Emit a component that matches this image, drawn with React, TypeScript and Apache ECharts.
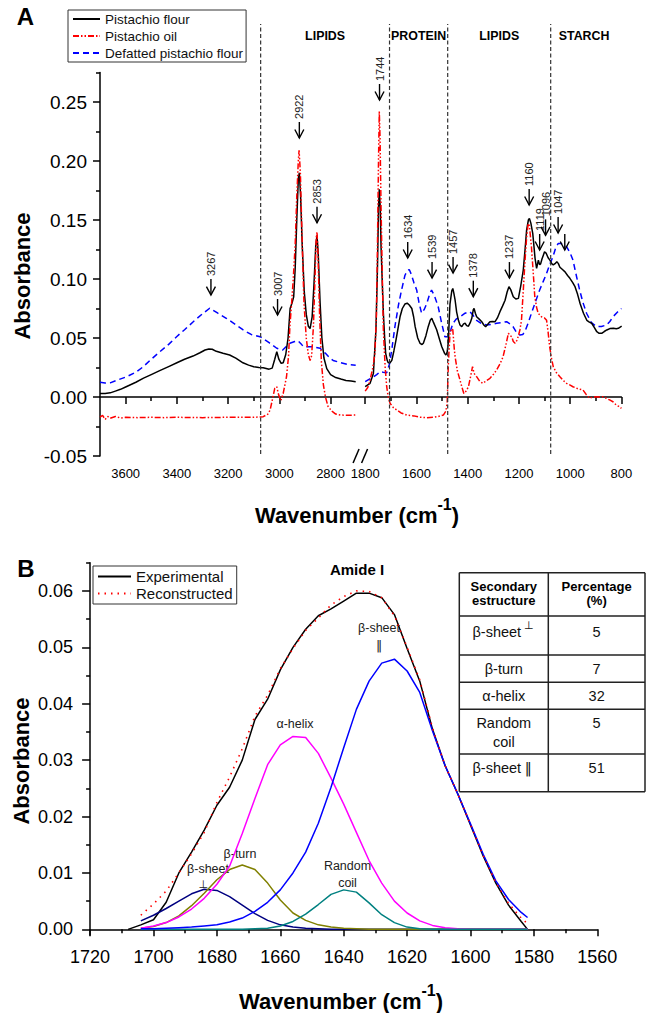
import React, { useEffect, useRef } from 'react';
import * as echarts from 'echarts';

const FONT = '"Liberation Sans", Arial, Helvetica, "DejaVu Sans", sans-serif';
const SYM_FONT = '"DejaVu Sans", "Liberation Sans", sans-serif';

// ---------------- Panel A : FTIR spectra [wavenumber cm-1, absorbance] ----------------
const flourLeft: number[][] = [
  [3700, 0.003], [3680, 0.003], [3660, 0.0035], [3640, 0.005], [3620, 0.0065], [3600, 0.0085],
  [3560, 0.0125], [3530, 0.016], [3500, 0.019], [3467, 0.0223], [3430, 0.026], [3400, 0.029],
  [3370, 0.032], [3337, 0.0347], [3310, 0.0375], [3290, 0.0398], [3275, 0.0407], [3262, 0.0405],
  [3246, 0.0387], [3220, 0.037], [3194, 0.0356], [3170, 0.033], [3142, 0.029], [3120, 0.027],
  [3100, 0.0257], [3080, 0.025], [3063, 0.0248], [3040, 0.0236], [3028, 0.0245], [3018, 0.032],
  [3010, 0.0385], [3002, 0.032], [2993, 0.0285], [2985, 0.029], [2975, 0.036], [2966, 0.05],
  [2958, 0.075], [2950, 0.08], [2944, 0.085], [2938, 0.11], [2932, 0.15], [2926, 0.185],
  [2922, 0.19], [2917, 0.17], [2911, 0.13], [2903, 0.09], [2895, 0.07], [2887, 0.06],
  [2880, 0.058], [2872, 0.068], [2865, 0.095], [2858, 0.128], [2853, 0.137], [2848, 0.12],
  [2841, 0.08], [2834, 0.05], [2826, 0.033], [2815, 0.024], [2800, 0.019], [2780, 0.0165],
  [2760, 0.0152], [2740, 0.014], [2720, 0.0135], [2702, 0.013],
];
const flourRight: number[][] = [
  [1800, 0.0087], [1781, 0.0116], [1768, 0.02], [1758, 0.057], [1752, 0.11], [1748, 0.16],
  [1745, 0.176], [1741, 0.16], [1738, 0.127], [1733, 0.095], [1729, 0.071], [1724, 0.05],
  [1720, 0.037], [1714, 0.031], [1710, 0.029], [1703, 0.029], [1696, 0.031], [1688, 0.039],
  [1680, 0.048], [1672, 0.058], [1664, 0.068], [1655, 0.075], [1645, 0.0788], [1636, 0.0795],
  [1628, 0.078], [1618, 0.075], [1611, 0.068], [1605, 0.0596], [1595, 0.05], [1586, 0.0455],
  [1578, 0.0445], [1573, 0.0455], [1563, 0.052], [1554, 0.0596], [1546, 0.065], [1540, 0.0667],
  [1533, 0.063], [1521, 0.057], [1510, 0.049], [1501, 0.0426], [1490, 0.037], [1485, 0.0356],
  [1480, 0.038], [1476, 0.0455], [1472, 0.065], [1469, 0.079], [1462, 0.09], [1458, 0.092],
  [1454, 0.088], [1449, 0.082], [1443, 0.072], [1436, 0.065], [1430, 0.061], [1423, 0.0596],
  [1416, 0.062], [1410, 0.0625], [1404, 0.0605], [1397, 0.06], [1390, 0.063], [1384, 0.0667],
  [1378, 0.074], [1375, 0.075], [1370, 0.071], [1365, 0.068], [1355, 0.066], [1345, 0.0638],
  [1337, 0.061], [1330, 0.0596], [1320, 0.062], [1313, 0.0638], [1303, 0.064], [1293, 0.0638],
  [1284, 0.067], [1274, 0.0723], [1264, 0.077], [1254, 0.082], [1246, 0.089], [1239, 0.0935],
  [1232, 0.091], [1222, 0.085], [1212, 0.083], [1202, 0.0836], [1193, 0.094], [1183, 0.1076],
  [1176, 0.125], [1170, 0.1415], [1163, 0.15], [1159, 0.1514], [1153, 0.147], [1146, 0.1387],
  [1141, 0.127], [1137, 0.1175], [1131, 0.109], [1126, 0.114], [1124, 0.116], [1119, 0.112],
  [1115, 0.113], [1110, 0.117], [1105, 0.12], [1100, 0.123], [1094, 0.122], [1086, 0.118],
  [1079, 0.116], [1072, 0.113], [1066, 0.112], [1059, 0.113], [1052, 0.1147], [1046, 0.113],
  [1040, 0.11], [1030, 0.108], [1020, 0.106], [1010, 0.103], [1001, 0.1006], [990, 0.097],
  [981, 0.0935], [971, 0.087], [961, 0.079], [948, 0.071], [935, 0.065], [925, 0.0635],
  [916, 0.0625], [906, 0.059], [896, 0.0553], [887, 0.054], [877, 0.054], [867, 0.0555],
  [857, 0.0568], [845, 0.058], [831, 0.0582], [820, 0.0578], [812, 0.0582], [799, 0.06],
];
const oilLeft: number[][] = [
  [3700, -0.017], [3690, -0.0155], [3680, -0.019], [3670, -0.0165], [3660, -0.018], [3640, -0.0165],
  [3620, -0.0178], [3600, -0.0172], [3550, -0.0175], [3500, -0.0172], [3450, -0.0175], [3400, -0.0172],
  [3300, -0.0175], [3200, -0.0172], [3100, -0.0172], [3063, -0.0167], [3045, -0.0145], [3036, -0.011],
  [3025, 0.0], [3018, 0.0073], [3010, 0.0087], [3003, 0.002], [2994, -0.003], [2985, 0.003],
  [2972, 0.0172], [2964, 0.035], [2959, 0.0596], [2952, 0.08], [2946, 0.099], [2938, 0.13],
  [2932, 0.17], [2926, 0.2], [2923, 0.209], [2918, 0.19], [2912, 0.14], [2904, 0.08],
  [2895, 0.05], [2887, 0.036], [2880, 0.031], [2874, 0.035], [2867, 0.06], [2861, 0.1],
  [2856, 0.135], [2853, 0.14], [2849, 0.12], [2843, 0.07], [2836, 0.03], [2828, 0.01],
  [2820, 0.0], [2810, -0.008], [2795, -0.012], [2780, -0.0145], [2760, -0.0153], [2730, -0.0155],
  [2702, -0.0153],
];
const oilRight: number[][] = [
  [1800, 0.005], [1790, 0.008], [1781, 0.0144], [1770, 0.025], [1762, 0.037], [1756, 0.07],
  [1752, 0.13], [1748, 0.2], [1745, 0.242], [1742, 0.22], [1738, 0.16], [1733, 0.1],
  [1729, 0.057], [1722, 0.025], [1716, 0.0087], [1710, 0.0], [1703, -0.0053], [1690, -0.009],
  [1677, -0.011], [1660, -0.0135], [1638, -0.0153], [1610, -0.016], [1586, -0.0172], [1560, -0.0175],
  [1534, -0.0172], [1515, -0.0165], [1495, -0.0153], [1485, -0.012], [1480, -0.005], [1475, 0.03],
  [1469, 0.054], [1462, 0.058], [1458, 0.057], [1452, 0.04], [1449, 0.034], [1440, 0.022],
  [1430, 0.0144], [1422, 0.008], [1415, 0.003], [1406, 0.005], [1397, 0.0087], [1388, 0.018],
  [1381, 0.0257], [1375, 0.02], [1365, 0.0172], [1352, 0.013], [1340, 0.0116], [1326, 0.014],
  [1313, 0.0158], [1300, 0.019], [1287, 0.0229], [1274, 0.028], [1262, 0.034], [1250, 0.045],
  [1241, 0.054], [1235, 0.052], [1228, 0.0511], [1222, 0.047], [1215, 0.0455], [1208, 0.048],
  [1203, 0.0511], [1196, 0.057], [1190, 0.065], [1183, 0.09], [1177, 0.113], [1170, 0.135],
  [1164, 0.147], [1159, 0.145], [1151, 0.127], [1144, 0.105], [1138, 0.085], [1131, 0.076],
  [1125, 0.071], [1112, 0.068], [1100, 0.067], [1092, 0.065], [1086, 0.055], [1080, 0.0426],
  [1073, 0.033], [1066, 0.0257], [1055, 0.021], [1040, 0.0172], [1027, 0.014], [1014, 0.0116],
  [1000, 0.01], [989, 0.0087], [970, 0.007], [950, 0.006], [937, 0.002], [924, -0.001],
  [910, 0.0], [897, 0.0003], [885, 0.0], [872, 0.0003], [860, -0.001], [846, -0.0025],
  [833, -0.004], [820, -0.0068], [810, -0.008], [800, -0.0096],
];
const defattedLeft: number[][] = [
  [3700, 0.0125], [3680, 0.0118], [3660, 0.012], [3630, 0.0145], [3596, 0.0172], [3560, 0.021],
  [3531, 0.0257], [3500, 0.032], [3466, 0.0384], [3430, 0.045], [3401, 0.0511], [3370, 0.057],
  [3336, 0.0638], [3300, 0.0705], [3272, 0.0752], [3240, 0.071], [3207, 0.0667], [3175, 0.062],
  [3141, 0.0568], [3110, 0.053], [3075, 0.0511], [3040, 0.046], [3010, 0.0413], [2987, 0.0398],
  [2972, 0.043], [2959, 0.0455], [2940, 0.047], [2927, 0.0477], [2915, 0.045], [2906, 0.0426],
  [2890, 0.0425], [2874, 0.0426], [2858, 0.042], [2841, 0.0413], [2820, 0.037], [2802, 0.0328],
  [2790, 0.031], [2760, 0.029], [2730, 0.0275], [2702, 0.027],
];
const defattedRight: number[][] = [
  [1800, 0.013], [1785, 0.015], [1768, 0.017], [1755, 0.019], [1742, 0.0214], [1730, 0.021],
  [1716, 0.0206], [1705, 0.028], [1695, 0.042], [1684, 0.0596], [1670, 0.078], [1658, 0.0907],
  [1645, 0.103], [1636, 0.107], [1628, 0.108], [1620, 0.104], [1610, 0.097], [1599, 0.0907],
  [1590, 0.08], [1580, 0.071], [1570, 0.074], [1560, 0.079], [1550, 0.086], [1541, 0.0907],
  [1530, 0.086], [1515, 0.0765], [1502, 0.063], [1489, 0.0511], [1476, 0.0511], [1466, 0.057],
  [1457, 0.0625], [1445, 0.066], [1430, 0.068], [1410, 0.071], [1391, 0.0723], [1378, 0.069],
  [1365, 0.065], [1345, 0.062], [1326, 0.061], [1307, 0.0615], [1287, 0.0625], [1268, 0.063],
  [1248, 0.0638], [1235, 0.062], [1223, 0.0596], [1210, 0.055], [1196, 0.0525], [1185, 0.053],
  [1177, 0.0553], [1165, 0.062], [1151, 0.071], [1135, 0.081], [1119, 0.0907], [1105, 0.098],
  [1092, 0.1048], [1080, 0.112], [1067, 0.119], [1057, 0.126], [1047, 0.13], [1035, 0.13],
  [1025, 0.1285], [1014, 0.1274], [1000, 0.122], [989, 0.116], [976, 0.103], [963, 0.0907],
  [950, 0.08], [936, 0.071], [917, 0.063], [897, 0.0596], [878, 0.0598], [858, 0.061],
  [845, 0.064], [833, 0.068], [815, 0.072], [800, 0.075],
];

const aMajorTicks = [3600, 3400, 3200, 3000, 2800, 1800, 1600, 1400, 1200, 1000, 800];
const aMinorTicks = [3500, 3300, 3100, 2900, 1700, 1500, 1300, 1100, 900];
const aYTicks = [-0.05, 0, 0.05, 0.1, 0.15, 0.2, 0.25];
const aYMinor = [-0.025, 0.025, 0.075, 0.125, 0.175, 0.225, 0.275];

const peakWaves = [3267, 3007, 2922, 2853, 1744, 1634, 1539, 1457, 1378, 1237, 1160, 1119, 1096, 1047, 1021];
const peakTips = [0.0864, 0.0695, 0.2195, 0.1477, 0.2517, 0.1178, 0.1008, 0.105, 0.085, 0.1008, 0.1627, 0.1246, 0.137, 0.139, 0.1246];
const peakLabels = ['3267', '3007', '2922', '2853', '1744', '1634', '1539', '1457', '1378', '1237', '1160', '1119', '1096', '1047', ''];

const dividerWaves = [3073, 1705, 1478, 1076];
const sectionNames = ['LIPIDS', 'PROTEIN', 'LIPIDS', 'STARCH'];
const sectionFrom = [3073, 1705, 1478, 1076];
const sectionTo = [1705, 1478, 1076, 815];

// ---------------- Panel B : Amide I deconvolution ----------------
const experimental: number[][] = [
  [1708, 0], [1704, 0.0008], [1700, 0.0017], [1696, 0.0048], [1692, 0.01], [1688, 0.0137],
  [1684, 0.0176], [1680, 0.022], [1676, 0.0252], [1672, 0.03], [1668, 0.0372], [1664, 0.0408],
  [1660, 0.046], [1656, 0.05], [1652, 0.0532], [1648, 0.0556], [1644, 0.0568], [1640, 0.0582],
  [1636, 0.0596], [1632, 0.0596], [1628, 0.0588], [1624, 0.0558], [1620, 0.0498], [1616, 0.044],
  [1612, 0.0355], [1608, 0.029], [1604, 0.024], [1600, 0.0185], [1596, 0.013], [1592, 0.0082],
  [1588, 0.0043], [1584, 0.0014], [1582, 0],
];
const compWaves = [1704, 1700, 1696, 1692, 1688, 1684, 1680, 1676, 1672, 1668, 1664, 1660, 1656, 1652, 1648, 1644,
  1640, 1636, 1632, 1628, 1624, 1620, 1616, 1612, 1608, 1604, 1600, 1596, 1592, 1588, 1584, 1582];
const reconstructed = [0.0025, 0.0045, 0.0068, 0.01, 0.0134, 0.0172, 0.0225, 0.027, 0.032, 0.0378, 0.0415, 0.0462,
  0.0498, 0.053, 0.0552, 0.0575, 0.059, 0.06, 0.0599, 0.0588, 0.0556, 0.05, 0.0442, 0.0357, 0.029, 0.024, 0.0186,
  0.0131, 0.0083, 0.0046, 0.002, 0.001];
const betaSheetPerp = [0.0015, 0.0025, 0.0037, 0.005, 0.0063, 0.0071, 0.0069, 0.0058, 0.0043, 0.0028, 0.0016, 0.0008,
  0.0004, 0.0002, 0.0001, 0, 0, 0, 0, 0, 0, 0, 0, 0, 0, 0, 0, 0, 0, 0, 0, 0];
const betaTurn = [0.0002, 0.0005, 0.0012, 0.0024, 0.0042, 0.0064, 0.0088, 0.0106, 0.0114, 0.0106, 0.0082, 0.0052,
  0.0029, 0.0016, 0.0008, 0.0004, 0.0002, 0.0001, 0, 0, 0, 0, 0, 0, 0, 0, 0, 0, 0, 0, 0, 0];
const alphaHelix = [0.0002, 0.0006, 0.0012, 0.0022, 0.0036, 0.0055, 0.008, 0.0112, 0.017, 0.0232, 0.0292, 0.0327,
  0.0342, 0.034, 0.0312, 0.0268, 0.0222, 0.0172, 0.0122, 0.0082, 0.005, 0.0029, 0.0015, 0.0007, 0.0003, 0.0001,
  0, 0, 0, 0, 0, 0];
const randomCoil = [0, 0, 0, 0, 0, 0, 0, 0, 0, 0.0001, 0.0002, 0.0006, 0.0014, 0.0027, 0.0044, 0.0062, 0.007, 0.0066,
  0.0047, 0.0026, 0.0012, 0.0004, 0.0001, 0, 0, 0, 0, 0, 0, 0, 0, 0];
const betaSheetPar = [0.0001, 0.0001, 0.0002, 0.0003, 0.0004, 0.0006, 0.0008, 0.0013, 0.002, 0.0032, 0.0048, 0.007,
  0.01, 0.0137, 0.0188, 0.0252, 0.0322, 0.039, 0.044, 0.0472, 0.0479, 0.0458, 0.042, 0.0352, 0.029, 0.024, 0.0187,
  0.0133, 0.0086, 0.0053, 0.003, 0.0021];

const bYTicks = [0, 0.01, 0.02, 0.03, 0.04, 0.05, 0.06];
const bYMinor = [0.005, 0.015, 0.025, 0.035, 0.045, 0.055, 0.065];

const tableStructures = ['β-sheet', 'β-turn', 'α-helix', 'Random', 'β-sheet'];
const tablePercent = [5, 7, 32, 5, 51];

// position mapping for the broken wavenumber axis
const GAP = 1017;
const toPos = (w: number) => (w >= 2700 ? 3700 - w : 2835 - w);
const posToWave = (p: number) => (p <= 1000 ? 3700 - p : 2835 - p);
const joinSeg = (l: number[][], r: number[][]) => [
  ...l.map(([w, a]) => [toPos(w), a]),
  [GAP, '-'],
  ...r.map(([w, a]) => [toPos(w), a]),
];

export default function App() {
  const ref = useRef<HTMLDivElement>(null);
  useEffect(() => {
    if (!ref.current) return;
    const chart = echarts.init(ref.current, undefined, { renderer: 'svg' });
    const txt = (x: number, y: number, text: string, size: number, opts: any = {}) => ({
      type: 'text', x, y, silent: true, rotation: opts.rotation || 0,
      style: {
        text, fontSize: size, fontFamily: opts.font || FONT, fontWeight: opts.bold ? 'bold' : 'normal',
        fill: opts.color || '#000', align: opts.align || 'center', verticalAlign: 'middle',
      },
    });
    const ln = (x1: number, y1: number, x2: number, y2: number, w = 1.5) => ({
      type: 'line', silent: true, shape: { x1, y1, x2, y2 }, style: { stroke: '#222', lineWidth: w },
    });

    const tableX0 = 459.3, tableX1 = 645, tableXc = 548.3;
    const rowYs = [572.7, 616, 655, 682.3, 709.3, 754, 791.7];
    const tableGraphics: any[] = [];
    rowYs.forEach((y) => tableGraphics.push(ln(tableX0, y, tableX1, y)));
    tableGraphics.push(ln(tableX0, rowYs[0], tableX0, rowYs[6]));
    tableGraphics.push(ln(tableX1, rowYs[0], tableX1, rowYs[6]));
    tableGraphics.push(ln(tableXc, rowYs[0], tableXc, rowYs[6]));
    const c1 = (tableX0 + tableXc) / 2, c2 = (tableXc + tableX1) / 2;
    tableGraphics.push(txt(c1, 586, 'Secondary', 13, { bold: true }));
    tableGraphics.push(txt(c1, 600.5, 'estructure', 13, { bold: true }));
    tableGraphics.push(txt(c2, 586, 'Percentage', 13, { bold: true }));
    tableGraphics.push(txt(c2, 600.5, '(%)', 13, { bold: true }));
    const rowTextY = [631.7, 669.3, 696, 723.3, 768.3];
    tableStructures.forEach((s, i) => {
      tableGraphics.push(txt(i === 0 || i === 4 ? c1 - 7 : c1, rowTextY[i], s, 14.5, { color: '#111' }));
      tableGraphics.push(txt(c2, rowTextY[i], String(tablePercent[i]), 14.5, { color: '#111' }));
    });
    tableGraphics.push(txt(c1 + 25, 625, '⊥', 11, { color: '#111', font: SYM_FONT }));
    tableGraphics.push(txt(c1, 741.7, 'coil', 14.5, { color: '#111' }));
    tableGraphics.push(txt(c1 + 24.5, 768.3, '‖', 14, { color: '#111', font: SYM_FONT }));

    const xName = (x: number, y: number) => ({
      type: 'text', x, y, silent: true,
      style: {
        text: '{m|Wavenumber (cm}{s|-1}{m|)}', align: 'center', verticalAlign: 'middle',
        rich: {
          m: { fontSize: 22, fontWeight: 'bold', fontFamily: FONT, fill: '#000', lineHeight: 30, verticalAlign: 'bottom' },
          s: { fontSize: 16, fontWeight: 'bold', fontFamily: FONT, fill: '#000', lineHeight: 14, verticalAlign: 'top' },
        },
      },
    });

    const lineS = (name: string, data: any[], color: string, type: any, xi: number, yi: number, width = 1.5) => ({
      name, type: 'line', data, xAxisIndex: xi, yAxisIndex: yi, symbol: 'none', showSymbol: false,
      silent: true, lineStyle: { color, width, type }, itemStyle: { color },
    });

    const compData = (vals: number[]) => compWaves.map((w, i) => [w, vals[i]]);

    const option: any = {
      animation: false,
      backgroundColor: '#fff',
      grid: [
        { left: 100, top: 72.5, width: 521.4, height: 383.5 },
        { left: 90.1, top: 562.7, width: 507.2, height: 372.3 },
      ],
      legend: [
        {
          data: ['Pistachio flour', 'Pistachio oil', 'Defatted pistachio flour'],
          left: 68, top: 10, orient: 'vertical', itemWidth: 27, itemHeight: 14, itemGap: 3,
          padding: [2, 3, 2, 4], borderColor: '#333', borderWidth: 1, selectedMode: false,
          itemStyle: { opacity: 0 },
          textStyle: { fontSize: 13.5, fontFamily: FONT, color: '#111' },
        },
        {
          data: ['Experimental', 'Reconstructed'],
          left: 93, top: 566, orient: 'vertical', itemWidth: 33, itemHeight: 16, itemGap: 2,
          padding: [3, 4, 3, 4], borderColor: '#333', borderWidth: 1, selectedMode: false,
          itemStyle: { opacity: 0 },
          textStyle: { fontSize: 15, fontFamily: FONT, color: '#111' },
        },
      ],
      xAxis: [
        {
          gridIndex: 0, type: 'value', min: 0, max: 2035, position: 'bottom',
          axisLine: { lineStyle: { color: '#000', width: 1.5 } },
          axisTick: { customValues: aMajorTicks.map(toPos), length: 7, lineStyle: { color: '#000', width: 1.5 } },
          axisLabel: {
            customValues: aMajorTicks.map(toPos), formatter: (v: number) => String(Math.round(posToWave(v))),
            fontSize: 13, fontFamily: FONT, color: '#000', margin: 11,
          },
          splitLine: { show: false },
        },
        {
          gridIndex: 0, type: 'value', min: 0, max: 2035, position: 'bottom',
          axisLine: { show: false },
          axisTick: { customValues: aMinorTicks.map(toPos), length: 4, lineStyle: { color: '#000', width: 1.5 } },
          axisLabel: { show: false }, splitLine: { show: false },
        },
        {
          gridIndex: 1, type: 'value', min: 1560, max: 1720, interval: 20, inverse: true, position: 'bottom',
          axisLine: { lineStyle: { color: '#000', width: 1.5 } },
          axisTick: { length: 7, lineStyle: { color: '#000', width: 1.5 } },
          minorTick: { show: true, splitNumber: 2, length: 4, lineStyle: { color: '#000', width: 1.5 } },
          axisLabel: { fontSize: 18, fontFamily: FONT, color: '#000', margin: 13, formatter: (v: number) => String(v) },
          splitLine: { show: false }, minorSplitLine: { show: false },
        },
      ],
      yAxis: [
        {
          gridIndex: 0, type: 'value', min: -0.05, max: 0.275,
          axisLine: { show: true, lineStyle: { color: '#000', width: 1.5 } },
          axisTick: { show: true, customValues: aYTicks, length: 7, lineStyle: { color: '#000', width: 1.5 } },
          axisLabel: {
            customValues: aYTicks, formatter: (v: number) => v.toFixed(2),
            fontSize: 19, fontFamily: FONT, color: '#000', margin: 13,
          },
          splitLine: { show: false },
        },
        {
          gridIndex: 0, type: 'value', min: -0.05, max: 0.275, position: 'left',
          axisLine: { show: false },
          axisTick: { show: true, customValues: aYMinor, length: 4, lineStyle: { color: '#000', width: 1.5 } },
          axisLabel: { show: false }, splitLine: { show: false },
        },
        {
          gridIndex: 1, type: 'value', min: -0.001, max: 0.065,
          axisLine: { show: true, lineStyle: { color: '#000', width: 1.5 } },
          axisTick: { show: true, customValues: bYTicks, length: 8, lineStyle: { color: '#000', width: 1.5 } },
          axisLabel: {
            customValues: bYTicks, formatter: (v: number) => v.toFixed(2),
            fontSize: 18, fontFamily: FONT, color: '#000', margin: 17,
          },
          splitLine: { show: false },
        },
        {
          gridIndex: 1, type: 'value', min: -0.001, max: 0.065, position: 'left',
          axisLine: { show: false },
          axisTick: { show: true, customValues: bYMinor, length: 4, lineStyle: { color: '#000', width: 1.5 } },
          axisLabel: { show: false }, splitLine: { show: false },
        },
      ],
      series: [
        lineS('Defatted pistachio flour', joinSeg(defattedLeft, defattedRight), '#0000ff', [6, 4], 0, 0),
        lineS('Pistachio flour', joinSeg(flourLeft, flourRight), '#000000', 'solid', 0, 0),
        lineS('Pistachio oil', joinSeg(oilLeft, oilRight), '#ff0000', [6, 2, 1.5, 2, 1.5, 2], 0, 0),
        {
          type: 'custom', xAxisIndex: 0, yAxisIndex: 0, silent: true, z: 4,
          data: dividerWaves.map((w) => [toPos(w), -0.05]),
          renderItem: (params: any, api: any) => {
            const p = api.coord([api.value(0), api.value(1)]);
            return {
              type: 'line', shape: { x1: p[0], y1: p[1] - 2, x2: p[0], y2: 24 },
              style: { stroke: '#333', lineWidth: 1.2, lineDash: [4, 2.5] },
            };
          },
        },
        {
          type: 'custom', xAxisIndex: 0, yAxisIndex: 0, silent: true, z: 4,
          data: sectionFrom.map((w, i) => [toPos(w), toPos(sectionTo[i])]),
          renderItem: (params: any, api: any) => {
            const a = api.coord([api.value(0), 0]);
            const b = api.coord([api.value(1), 0]);
            return {
              type: 'text', x: (a[0] + b[0]) / 2, y: 36,
              style: {
                text: sectionNames[params.dataIndex], fontSize: 12.4, fontWeight: 'bold', fontFamily: FONT,
                fill: '#000', align: 'center', verticalAlign: 'middle',
              },
            };
          },
        },
        {
          type: 'custom', xAxisIndex: 0, yAxisIndex: 0, silent: true, z: 5,
          data: peakWaves.map((w, i) => [toPos(w), peakTips[i]]),
          renderItem: (params: any, api: any) => {
            const p = api.coord([api.value(0), api.value(1)]);
            const x = p[0], y = p[1];
            return {
              type: 'group',
              children: [
                { type: 'line', shape: { x1: x, y1: y - 16, x2: x, y2: y }, style: { stroke: '#000', lineWidth: 1.4 } },
                {
                  type: 'polyline', shape: { points: [[x - 4.5, y - 8.5], [x, y], [x + 4.5, y - 8.5]] },
                  style: { stroke: '#000', lineWidth: 1.4, fill: 'none' },
                },
                {
                  type: 'text', x, y: y - 19, rotation: Math.PI / 2,
                  style: {
                    text: peakLabels[params.dataIndex], fontSize: 11, fontFamily: FONT, fill: '#222',
                    align: 'left', verticalAlign: 'middle',
                  },
                },
              ],
            };
          },
        },
        {
          type: 'custom', xAxisIndex: 0, yAxisIndex: 0, silent: true, z: 6,
          data: [[GAP, -0.05]],
          renderItem: (params: any, api: any) => {
            const p = api.coord([api.value(0), api.value(1)]);
            const x = p[0], y = p[1];
            return {
              type: 'group',
              children: [
                { type: 'rect', shape: { x: x - 4.5, y: y - 2, width: 8.5, height: 4 }, style: { fill: '#fff' } },
                { type: 'line', shape: { x1: x - 7.5, y1: y + 7, x2: x - 1.5, y2: y - 7 }, style: { stroke: '#000', lineWidth: 1.5 } },
                { type: 'line', shape: { x1: x + 1, y1: y + 7, x2: x + 7, y2: y - 7 }, style: { stroke: '#000', lineWidth: 1.5 } },
              ],
            };
          },
        },
        lineS('Experimental', experimental, '#000000', 'solid', 2, 2),
        lineS('β-sheet ⊥', compData(betaSheetPerp), '#000080', 'solid', 2, 2),
        lineS('β-turn', compData(betaTurn), '#808000', 'solid', 2, 2),
        lineS('α-helix', compData(alphaHelix), '#ff00ff', 'solid', 2, 2),
        lineS('Random coil', compData(randomCoil), '#008080', 'solid', 2, 2),
        lineS('β-sheet ∥', compData(betaSheetPar), '#0000ff', 'solid', 2, 2),
        lineS('Reconstructed', compData(reconstructed), '#ff0000', [1.5, 5], 2, 2, 1.6),
      ],
      graphic: [
        txt(25.5, 16.5, 'A', 24, { bold: true }),
        txt(25.8, 568, 'B', 24, { bold: true }),
        txt(22, 276, 'Absorbance', 22, { bold: true, rotation: Math.PI / 2 }),
        txt(21, 761, 'Absorbance', 22, { bold: true, rotation: Math.PI / 2 }),
        xName(357, 511),
        xName(341, 997),
        txt(357, 569, 'Amide I', 15, { bold: true }),
        txt(295, 724, 'α-helix', 12.5, { color: '#222' }),
        txt(379, 628, 'β-sheet', 12.5, { color: '#222' }),
        txt(379, 645, '‖', 12.5, { color: '#222', font: SYM_FONT }),
        txt(240, 854, 'β-turn', 12.5, { color: '#222' }),
        txt(208, 869, 'β-sheet', 12.5, { color: '#222' }),
        txt(203.3, 884, '⊥', 11, { color: '#222', font: SYM_FONT }),
        txt(347.5, 866, 'Random', 12.5, { color: '#222' }),
        txt(347.5, 883, 'coil', 12.5, { color: '#222' }),
        ...tableGraphics,
      ],
    };
    chart.setOption(option);
    return () => chart.dispose();
  }, []);
  return <div ref={ref} style={{ position: 'absolute', left: 0, top: 0, width: 646, height: 1013 }} />;
}
